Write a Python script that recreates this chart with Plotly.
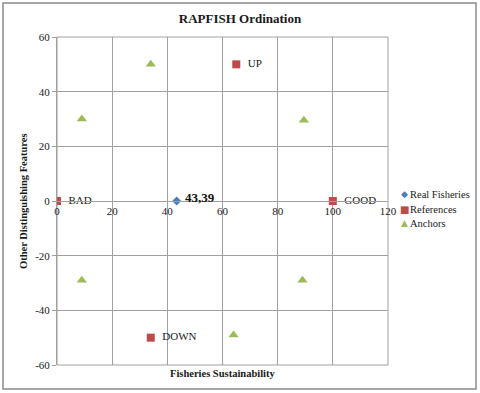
import plotly.graph_objects as go

# ---- data ----
real_x = [43.39]
real_y = [0]
real_labels = ["43,39"]

ref_x = [0, 100, 65, 34]
ref_y = [0, 0, 50, -50]
ref_labels = ["BAD", "GOOD", "UP", "DOWN"]

anchor_x = [34, 9, 89.5, 9, 89, 64]
anchor_y = [50, 30, 29.5, -29, -29, -49]

x_ticks = [0, 20, 40, 60, 80, 100, 120]
y_ticks = [-60, -40, -20, 0, 20, 40, 60]
y_tick_labels = ["-60", "-40", "-20", "0", "20", "40", "60"]

series_names = ["Real Fisheries", "References", "Anchors"]
series_colors = ["#4a7ebb", "#be4b48", "#9bbb59"]
series_glyphs = ["\u25c6", "\u25a0", "\u25b2"]

FONT = "Liberation Serif, Times New Roman, serif"
GRID = "#a0a0a0"
NBSP = "\u00a0"

fig = go.Figure()
fig.add_trace(go.Scatter(
    x=real_x, y=real_y, mode="markers", name=series_names[0],
    marker=dict(symbol="diamond", size=7, color=series_colors[0])))
fig.add_trace(go.Scatter(
    x=ref_x, y=ref_y, mode="markers+text", name=series_names[1],
    text=[NBSP * 2 + t for t in ref_labels], textposition="middle right",
    textfont=dict(family=FONT, size=11, color="#1a1a1a"),
    marker=dict(symbol="square", size=8, color=series_colors[1])))
fig.add_trace(go.Scatter(
    x=anchor_x, y=anchor_y, mode="markers", name=series_names[2],
    marker=dict(symbol="triangle-up", size=9, color=series_colors[2])))

L, R, T, B = 57, 92, 37, 28
W, H = 480, 393
pw, ph = W - L - R, H - T - B

fig.update_xaxes(range=[0, 120], tickvals=x_ticks, showgrid=True, gridcolor=GRID,
                 gridwidth=1, zeroline=False, anchor="free", position=0.5,
                 showline=True, linecolor=GRID, ticks="",
                 tickfont=dict(family=FONT, size=11, color="#1a1a1a"))
fig.update_yaxes(range=[-60, 60], tickvals=y_ticks, ticktext=y_tick_labels,
                 showgrid=True, gridcolor=GRID,
                 gridwidth=1, zeroline=False, showline=True, linecolor=GRID,
                 ticks="outside", ticklen=4, tickcolor=GRID,
                 tickfont=dict(family=FONT, size=11, color="#1a1a1a"))

def px_x(p):
    return (p - L) / pw

def px_y(p):
    return (H - B - p) / ph

annotations = [
    dict(text="<b>Fisheries Sustainability</b>", xref="paper", yref="paper",
         x=0.5, y=px_y(373), xanchor="center", yanchor="middle", showarrow=False,
         font=dict(family=FONT, size=10.5, color="#1a1a1a")),
    dict(text="<b>Other Distinguishing Features</b>", xref="paper", yref="paper",
         x=px_x(23), y=0.5, xanchor="center", yanchor="middle", showarrow=False,
         textangle=-90, font=dict(family=FONT, size=10.5, color="#1a1a1a")),
]
# bold data label for the real fishery point
for xv, yv, lab in zip(real_x, real_y, real_labels):
    annotations.append(dict(text="<b>" + lab + "</b>", x=xv, y=yv, xref="x", yref="y",
                            xanchor="left", yanchor="middle", xshift=6, yshift=4,
                            showarrow=False,
                            font=dict(family=FONT, size=13, color="#111")))

# compact legend (Excel-style) drawn as text
leg_y = [194, 209, 223]
glyph_sizes = [9, 10, 9]
for name, col, gl, gs, yy in zip(series_names, series_colors, series_glyphs, glyph_sizes, leg_y):
    annotations.append(dict(text=gl, xref="paper", yref="paper", x=px_x(404), y=px_y(yy),
                            xanchor="center", yanchor="middle", showarrow=False,
                            font=dict(family="DejaVu Sans", size=gs, color=col)))
    annotations.append(dict(text=name, xref="paper", yref="paper", x=px_x(408), y=px_y(yy),
                            xanchor="left", yanchor="middle", showarrow=False,
                            font=dict(family=FONT, size=10.5, color="#1a1a1a")))

fig.update_layout(
    width=W, height=H,
    margin=dict(l=L, r=R, t=T, b=B, autoexpand=False),
    paper_bgcolor="white", plot_bgcolor="white",
    font=dict(family=FONT, color="#1a1a1a"),
    title=dict(text="<b>RAPFISH Ordination</b>", xref="container", x=0.5,
               xanchor="center", yref="container", y=1 - 18 / H, yanchor="middle",
               font=dict(family=FONT, size=13, color="#1a1a1a")),
    showlegend=False,
    shapes=[
        dict(type="rect", xref="paper", yref="paper", x0=0, x1=1, y0=0, y1=1,
             line=dict(color=GRID, width=1), layer="below"),
        dict(type="rect", xref="paper", yref="paper",
             x0=px_x(3), x1=px_x(476), y0=px_y(389), y1=px_y(3),
             line=dict(color="#8c8c8c", width=1.5)),
    ],
    annotations=annotations,
)

fig.write_html("out.html", config={"displayModeBar": False},
               post_script="document.body.style.margin='0';document.body.style.overflow='hidden';")
